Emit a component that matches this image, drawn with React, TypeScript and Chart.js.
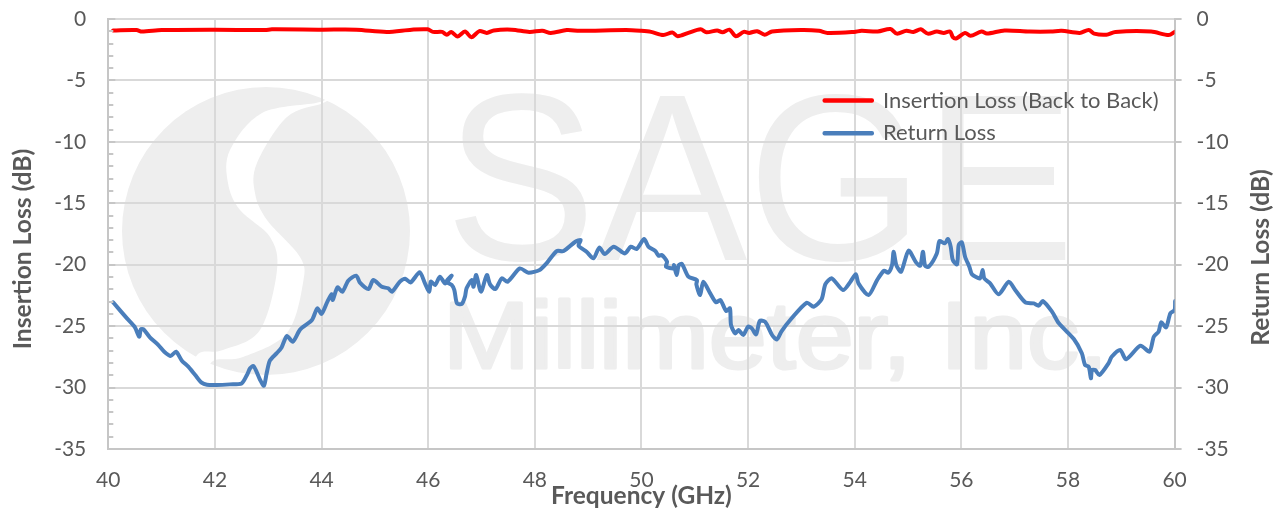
import React, { useEffect, useRef } from "react";
import { Chart, registerables } from "chart.js";

Chart.register(...registerables);

const returnFreq = [40.09,40.35,40.50,40.58,40.61,40.66,40.78,40.94,41.05,41.17,41.27,41.38,41.50,41.63,41.75,41.85,42.03,42.28,42.50,42.60,42.66,42.72,42.78,42.85,42.92,42.97,43.03,43.16,43.25,43.35,43.46,43.60,43.82,43.92,44.0,44.11,44.19,44.21,44.30,44.39,44.50,44.65,44.72,44.88,44.97,45.13,45.25,45.32,45.47,45.57,45.67,45.84,45.94,46.02,46.05,46.13,46.22,46.32,46.44,46.34,46.44,46.49,46.54,46.63,46.69,46.72,46.82,46.85,46.90,46.99,47.10,47.16,47.26,47.38,47.49,47.72,47.88,48.09,48.22,48.41,48.54,48.76,48.86,48.82,48.97,49.10,49.21,49.31,49.48,49.69,49.80,49.91,50.05,50.13,50.26,50.32,50.38,50.48,50.46,50.60,50.61,50.66,50.70,50.76,50.88,51.04,51.03,51.10,51.16,51.29,51.40,51.48,51.59,51.66,51.68,51.76,51.82,51.91,52.0,52.07,52.15,52.22,52.32,52.45,52.54,52.63,52.79,53.10,53.23,53.38,53.45,53.57,53.78,53.92,54.02,54.07,54.26,54.42,54.55,54.63,54.70,54.73,54.78,54.87,55.01,55.15,55.23,55.28,55.32,55.39,55.54,55.59,55.69,55.75,55.80,55.84,55.92,55.95,56.01,56.07,56.15,56.20,56.35,56.40,56.43,56.54,56.70,56.89,57.01,57.20,57.36,57.45,57.53,57.70,57.83,58.11,58.26,58.32,58.39,58.43,58.45,58.51,58.59,58.76,58.82,58.98,59.09,59.36,59.53,59.61,59.70,59.75,59.84,59.92,60.0,60.01];
const returnLoss = [-23.06,-24.37,-25.10,-25.86,-25.26,-25.26,-25.91,-26.54,-27.08,-27.43,-27.08,-27.81,-28.30,-28.98,-29.6,-29.77,-29.79,-29.74,-29.66,-28.98,-28.43,-28.25,-28.7,-29.4,-29.85,-28.84,-27.81,-27.2,-26.73,-25.8,-26.27,-25.26,-24.5,-23.55,-24.0,-23.0,-22.4,-22.87,-21.84,-22.2,-21.3,-20.89,-21.46,-21.98,-21.25,-21.8,-21.92,-22.2,-21.38,-21.14,-21.44,-20.62,-21.52,-22.2,-21.38,-21.65,-20.97,-21.52,-20.89,-21.38,-21.65,-22.06,-23.15,-23.2,-22.6,-21.92,-21.25,-21.8,-20.84,-22.2,-20.84,-21.6,-21.98,-21.11,-21.38,-20.3,-20.65,-20.43,-19.89,-18.89,-18.89,-18.13,-17.99,-18.45,-18.94,-19.48,-18.6,-19.13,-18.53,-19.08,-18.53,-18.72,-17.91,-18.53,-18.89,-19.27,-19.21,-19.75,-20.16,-20.3,-20.03,-20.84,-20.03,-19.94,-20.97,-21.25,-21.6,-22.47,-21.38,-22.33,-23.06,-22.87,-23.77,-23.55,-24.91,-25.59,-25.32,-25.72,-25.04,-25.18,-25.67,-24.58,-24.64,-25.72,-26.08,-25.4,-24.5,-23.09,-23.42,-22.8,-21.58,-21.11,-22.06,-21.38,-20.78,-21.52,-22.47,-21.25,-20.49,-20.65,-20.03,-18.94,-20.03,-20.57,-18.86,-19.81,-20.08,-18.94,-20.08,-20.16,-19.08,-18.07,-18.26,-17.91,-18.53,-19.62,-19.97,-18.4,-18.18,-19.35,-20.16,-20.78,-21.11,-20.43,-21.11,-21.52,-22.41,-21.38,-22.06,-23.06,-23.15,-23.33,-22.96,-23.82,-24.77,-26.05,-27.21,-28.16,-28.3,-29.25,-28.57,-28.57,-28.98,-28.03,-27.49,-26.94,-27.7,-26.59,-27.08,-25.86,-25.45,-24.69,-25.1,-23.96,-23.69,-22.96];

const insertionFreq = [40.09,40.53,40.63,41.0,42.0,42.94,43.07,44.0,44.65,45.22,45.69,45.99,46.09,46.26,46.35,46.43,46.55,46.69,46.81,46.96,47.1,47.23,47.57,47.9,48.14,48.3,48.6,48.84,49.71,49.98,50.18,50.41,50.58,50.68,50.88,51.11,51.22,51.42,51.52,51.65,51.77,51.92,52.02,52.17,52.31,52.45,52.99,53.33,53.49,53.99,54.13,54.43,54.67,54.79,54.97,55.1,55.24,55.37,55.54,55.67,55.79,55.84,55.91,56.07,56.17,56.38,56.48,56.81,57.28,57.68,57.88,58.22,58.39,58.49,58.72,58.89,59.56,59.89,60.0];
const insertionLoss = [-0.93,-0.9,-1.02,-0.9,-0.87,-0.9,-0.84,-0.87,-0.87,-1.05,-0.87,-0.84,-1.05,-1.05,-1.28,-1.05,-1.42,-1.02,-1.48,-0.99,-1.13,-0.93,-0.87,-1.05,-0.96,-1.13,-0.9,-0.96,-0.9,-0.96,-1.05,-1.31,-1.1,-1.4,-1.13,-0.84,-1.08,-0.93,-1.08,-0.87,-1.4,-1.05,-1.13,-0.99,-1.28,-1.02,-0.9,-0.96,-1.13,-1.05,-0.96,-1.02,-0.81,-1.19,-0.96,-1.05,-0.84,-1.19,-1.02,-1.13,-1.02,-1.48,-1.57,-1.13,-1.37,-1.02,-1.19,-0.93,-1.02,-1.02,-0.96,-1.13,-0.9,-1.19,-1.28,-1.05,-1.02,-1.31,-1.05];

const seriesNames = ["Insertion Loss (Back to Back)", "Return Loss"];
const xAxisTitle = "Frequency (GHz)";
const leftAxisTitle = "Insertion Loss (dB)";
const rightAxisTitle = "Return Loss (dB)";
const watermarkTitle = "SAGE";
const watermarkSubtitle = "Millimeter, Inc.";

const FONT = "Lato, Carlito, Calibri, sans-serif";
const TEXT = "#595959";
const GRID = "#d9d9d9";
const AXIS = "#c6c6c6";
const MARK = "#eeeeee";

const zip = (xs: number[], ys: number[]) => xs.map((x, i) => ({ x, y: ys[i] }));

function smoothThrough(ctx: CanvasRenderingContext2D, pts: number[][]) {
  for (let i = 0; i < pts.length - 1; i++) {
    const p0 = pts[Math.max(i - 1, 0)], p1 = pts[i], p2 = pts[i + 1], p3 = pts[Math.min(i + 2, pts.length - 1)];
    ctx.bezierCurveTo(
      p1[0] + (p2[0] - p0[0]) / 6, p1[1] + (p2[1] - p0[1]) / 6,
      p2[0] - (p3[0] - p1[0]) / 6, p2[1] - (p3[1] - p1[1]) / 6,
      p2[0], p2[1]);
  }
}

function fittedText(ctx: CanvasRenderingContext2D, text: string, font: string, left: number, right: number, baseline: number, thicken: number) {
  ctx.save();
  ctx.font = font;
  ctx.fillStyle = MARK;
  ctx.strokeStyle = MARK;
  ctx.lineJoin = "round";
  ctx.textAlign = "left";
  ctx.textBaseline = "alphabetic";
  const w = ctx.measureText(text).width;
  ctx.translate(left, baseline);
  ctx.scale((right - left) / w, 1);
  ctx.fillText(text, 0, 0);
  if (thicken > 0) {
    ctx.lineWidth = thicken;
    ctx.strokeText(text, 0, 0);
  }
  ctx.restore();
}

const watermark = {
  id: "watermark",
  beforeDraw(chart: any) {
    const ctx: CanvasRenderingContext2D = chart.ctx;
    ctx.save();
    ctx.fillStyle = MARK;
    ctx.beginPath();
    ctx.arc(266, 231, 144, 0, Math.PI * 2);
    ctx.fill();
    const edgeA = [[332, 92], [320, 102], [262, 113], [230, 150], [228, 183], [240, 210], [270, 237], [277, 270], [260, 330], [223, 350], [198, 354], [190, 380]];
    const edgeB = [[205, 380], [213, 361], [243, 357], [287, 333], [303, 283], [300, 257], [267, 220], [255, 193], [257, 163], [287, 117], [323, 103], [340, 92]];
    ctx.fillStyle = "#ffffff";
    ctx.beginPath();
    ctx.moveTo(edgeA[0][0], edgeA[0][1]);
    smoothThrough(ctx, edgeA);
    ctx.lineTo(edgeB[0][0], edgeB[0][1]);
    smoothThrough(ctx, edgeB);
    ctx.closePath();
    ctx.fill();
    ctx.restore();
    fittedText(ctx, watermarkTitle, `400 238px "Liberation Sans"`, 445, 1075, 260, 0);
    fittedText(ctx, watermarkSubtitle, `400 94px "Liberation Sans"`, 443, 1108, 368, 3);
  },
};

const axisDetails = {
  id: "axisDetails",
  afterDraw(chart: any) {
    const ctx: CanvasRenderingContext2D = chart.ctx;
    const y = chart.scales.y;
    const area = chart.chartArea;
    ctx.save();
    ctx.strokeStyle = AXIS;
    ctx.lineWidth = 2;
    for (let v = y.max; v >= y.min; v -= 1) {
      const p = Math.round(y.getPixelForValue(v));
      ctx.beginPath();
      ctx.moveTo(area.left, p);
      ctx.lineTo(area.left + (v % 5 === 0 ? 7 : 5), p);
      ctx.stroke();
    }
    ctx.fillStyle = TEXT;
    ctx.font = `700 24.6px ${FONT}`;
    ctx.textAlign = "center";
    ctx.textBaseline = "middle";
    ctx.translate(23, 249);
    ctx.rotate(-Math.PI / 2);
    ctx.fillText(leftAxisTitle, 0, 0);
    ctx.rotate(Math.PI / 2);
    ctx.translate(1261 - 23, 257.5 - 249);
    ctx.rotate(-Math.PI / 2);
    ctx.fillText(rightAxisTitle, 0, 0);
    ctx.restore();
  },
};

const legendPlacement = {
  id: "legendPlacement",
  afterUpdate(chart: any) {
    const legend = chart.legend;
    legend.left = 813.9;
    legend.top = 79;
  },
};

const noLabelPadding = (s: any) => { s.paddingTop = 0; s.paddingBottom = 0; s.paddingLeft = 0; s.paddingRight = 0; };

export default function App() {
  const ref = useRef<HTMLCanvasElement>(null);
  useEffect(() => {
    document.body.style.margin = "0";
    const chart = new Chart(ref.current!, {
      type: "line",
      data: {
        datasets: [
          { label: seriesNames[0], data: zip(insertionFreq, insertionLoss), borderColor: "#ff0000", backgroundColor: "#ff0000", borderWidth: 4, pointRadius: 0, borderCapStyle: "round", borderJoinStyle: "round", tension: 0.3, yAxisID: "y" },
          { label: seriesNames[1], data: zip(returnFreq, returnLoss), borderColor: "#4a7ebb", backgroundColor: "#4a7ebb", borderWidth: 4, pointRadius: 0, borderCapStyle: "round", borderJoinStyle: "round", tension: 0.25, yAxisID: "y2" },
        ],
      },
      options: {
        animation: false,
        responsive: false,
        devicePixelRatio: 1,
        layout: { padding: { top: 19, left: 0, right: 0, bottom: 0 } },
        plugins: {
          tooltip: { enabled: false },
          legend: {
            position: "chartArea",
            align: "start",
            labels: {
              boxWidth: 47.5,
              boxHeight: 0.5,
              padding: 10.6,
              color: TEXT,
              font: { family: FONT, size: 22 },
            },
          },
        },
        scales: {
          x: {
            type: "linear",
            min: 40,
            max: 60,
            afterFit: (s: any) => { s.height = 61; noLabelPadding(s); },
            ticks: { stepSize: 2, color: TEXT, font: { family: FONT, size: 21 }, padding: 19 },
            grid: { color: GRID, lineWidth: 2, drawTicks: false },
            border: { color: AXIS, width: 2 },
            title: { display: true, text: xAxisTitle, color: TEXT, font: { family: FONT, size: 24.5, weight: "bold" }, padding: { top: 0, bottom: -1 } },
          },
          y: {
            position: "left",
            min: -35,
            max: 0,
            afterFit: (s: any) => { s.width = 108.3; noLabelPadding(s); },
            ticks: { stepSize: 5, color: TEXT, font: { family: FONT, size: 21 }, padding: 22 },
            grid: { color: GRID, lineWidth: 2, drawTicks: false },
            border: { color: AXIS, width: 2 },
          },
          y2: {
            position: "right",
            min: -35,
            max: 0,
            afterFit: (s: any) => { s.width = 106.4; noLabelPadding(s); },
            ticks: { stepSize: 5, color: TEXT, font: { family: FONT, size: 21 }, padding: 15 },
            grid: { drawOnChartArea: false, color: AXIS, tickColor: AXIS, lineWidth: 2, tickLength: 7 },
            border: { color: AXIS, width: 2 },
          },
        },
      },
      plugins: [watermark, axisDetails, legendPlacement],
    } as any);
    return () => chart.destroy();
  }, []);
  return <canvas ref={ref} width={1281} height={510} style={{ display: "block" }} />;
}
